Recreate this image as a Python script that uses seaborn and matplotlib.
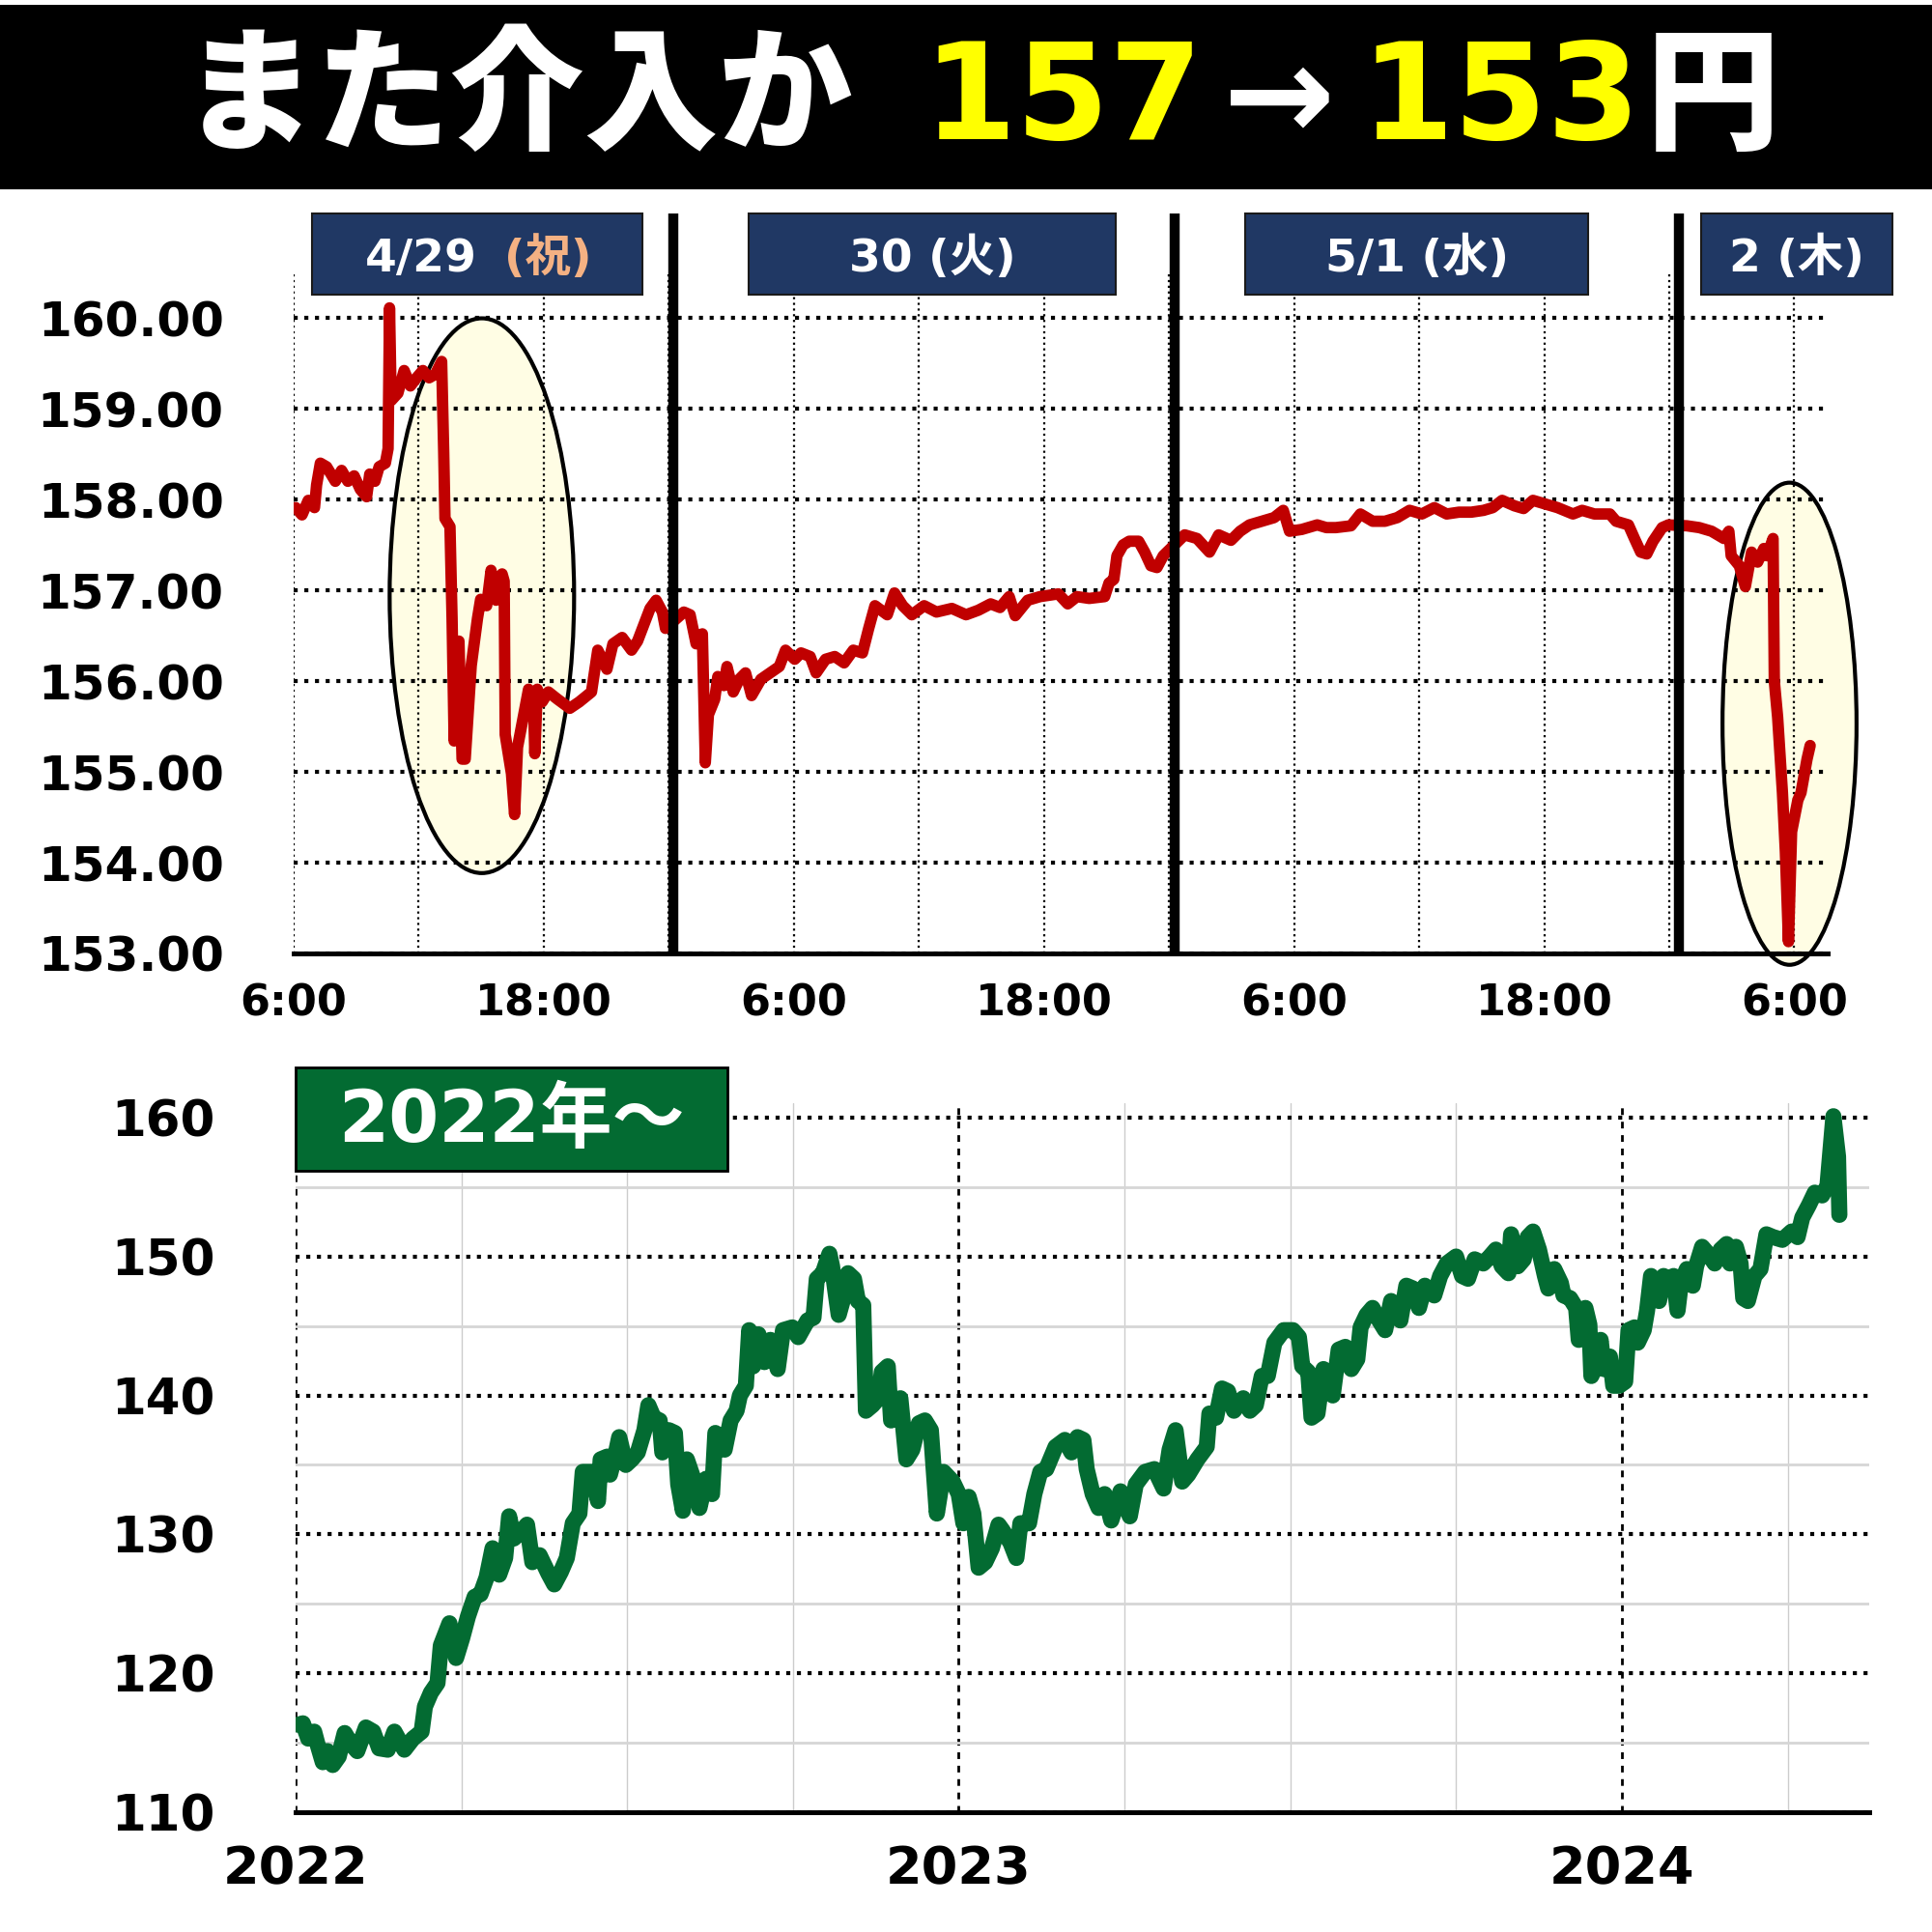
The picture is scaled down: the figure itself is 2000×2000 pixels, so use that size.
import numpy as np
import pandas as pd
import seaborn as sns
import matplotlib.pyplot as plt
from matplotlib.patches import Ellipse, Rectangle

# ドル円 4/29 6:00 からの経過時間 [h]
hours = [0.1, 0.4, 0.7, 1.0, 1.1, 1.28, 1.58, 2.0, 2.3, 2.6, 2.9, 3.2, 3.5, 3.65, 3.9, 4.1, 4.4, 4.53,
         4.6, 4.68, 5.0, 5.3, 5.6, 5.9, 6.2, 6.5, 6.8, 7.1, 7.2, 7.26, 7.5, 7.6, 7.7, 7.85, 7.93, 8.08,
         8.23, 8.52, 8.82, 8.97, 9.26, 9.47, 9.71, 10.0, 10.1, 10.15, 10.45, 10.6, 10.74, 11.04, 11.27,
         11.5, 11.57, 11.69, 11.92, 12.22, 12.66, 13.25, 13.7, 14.29, 14.59, 15.03, 15.32, 15.76, 16.21,
         16.5, 16.8, 17.1, 17.39, 17.69, 17.84, 18.72, 19.02, 19.31, 19.61, 19.75, 19.9, 20.2, 20.35,
         20.64, 20.79, 21.09, 21.38, 21.68, 21.97, 22.42, 22.86, 23.3, 23.6, 24.04, 24.34, 24.78, 25.07,
         25.52, 25.96, 26.41, 26.85, 27.29, 27.59, 27.89, 28.48, 28.83, 29.22, 29.66, 30.25, 30.84, 31.58,
         32.26, 32.85, 33.44, 33.89, 34.33, 34.62, 35.22, 35.81, 36.69, 37.14, 37.58, 38.17, 38.91, 39.12,
         39.35, 39.5, 39.8, 40.09, 40.54, 40.83, 41.13, 41.42, 41.72, 42.75, 43.34, 43.94, 44.38, 44.97,
         45.41, 45.86, 46.45, 47.04, 47.48, 47.78, 48.37, 49.11, 49.55, 50.0, 50.73, 51.18, 51.77, 52.36,
         52.95, 53.54, 54.13, 54.73, 55.32, 55.91, 56.5, 57.09, 57.53, 57.98, 58.57, 59.01, 59.46, 60.05,
         60.64, 61.38, 61.82, 62.41, 63.15, 63.45, 64.04, 64.33, 64.63, 64.92, 65.22, 65.66, 65.96, 66.84,
         67.44, 68.03, 68.62, 68.86, 68.97, 69.36, 69.65, 69.95, 70.24, 70.54, 70.69, 70.98, 71.04, 71.2,
         71.43, 71.57, 71.72, 71.87, 72.17, 72.32, 72.46, 72.61, 72.76]
usdjpy_intraday = [157.91, 157.83, 157.99, 157.91, 158.16, 158.40, 158.36, 158.20, 158.32, 158.20, 158.26,
                   158.11, 158.03, 158.28, 158.20, 158.36, 158.40, 158.56, 160.11, 159.09, 159.17, 159.42,
                   159.25, 159.34, 159.42, 159.34, 159.38, 159.52, 158.52, 157.79, 157.70, 156.69, 155.34,
                   156.40, 156.44, 155.14, 155.14, 156.17, 156.69, 156.90, 156.83, 157.22, 156.89, 157.18,
                   157.10, 155.41, 154.98, 154.53, 155.27, 155.63, 155.91, 155.85, 155.20, 155.91, 155.77,
                   155.88, 155.80, 155.70, 155.77, 155.88, 156.34, 156.13, 156.41, 156.48, 156.34, 156.44,
                   156.62, 156.80, 156.89, 156.76, 156.58, 156.76, 156.73, 156.41, 156.52, 155.10, 155.63,
                   155.80, 156.05, 155.95, 156.16, 155.88, 156.02, 156.09, 155.84, 156.02, 156.09, 156.16,
                   156.34, 156.24, 156.31, 156.27, 156.09, 156.24, 156.27, 156.20, 156.34, 156.31, 156.58,
                   156.83, 156.73, 156.97, 156.83, 156.73, 156.83, 156.76, 156.80, 156.73, 156.78, 156.85,
                   156.81, 156.93, 156.72, 156.89, 156.93, 156.96, 156.85, 156.93, 156.91, 156.93, 157.08,
                   157.12, 157.38, 157.50, 157.54, 157.54, 157.42, 157.27, 157.25, 157.38, 157.61, 157.57,
                   157.42, 157.61, 157.55, 157.65, 157.72, 157.76, 157.80, 157.88, 157.65, 157.67, 157.72,
                   157.69, 157.69, 157.71, 157.84, 157.76, 157.76, 157.80, 157.88, 157.84, 157.91, 157.84,
                   157.86, 157.86, 157.88, 157.91, 157.99, 157.93, 157.90, 157.99, 157.95, 157.91, 157.84,
                   157.88, 157.84, 157.84, 157.76, 157.72, 157.57, 157.42, 157.40, 157.54, 157.69, 157.72,
                   157.71, 157.69, 157.65, 157.57, 157.65, 157.38, 157.27, 157.04, 157.42, 157.31, 157.46,
                   157.38, 157.57, 156.00, 155.60, 154.77, 154.12, 153.13, 154.34, 154.69, 154.77, 154.95,
                   155.14, 155.29]

hour_ticks = [0, 12, 24, 36, 48, 60, 72]
hour_labels = ['6:00', '18:00', '6:00', '18:00', '6:00', '18:00', '6:00']
day_breaks = [18.22, 42.27, 66.47]
day_names = ['4/29', '30 (火)', '5/1 (水)', '2 (木)']

# 2022年～ ドル円（年）
years = [2022.004, 2022.011, 2022.019, 2022.028, 2022.033, 2022.041, 2022.048, 2022.056, 2022.065, 2022.074,
         2022.084, 2022.093, 2022.106, 2022.117, 2022.126, 2022.139, 2022.149, 2022.164, 2022.177, 2022.190,
         2022.195, 2022.204, 2022.214, 2022.219, 2022.232, 2022.242, 2022.251, 2022.260, 2022.270, 2022.279,
         2022.288, 2022.297, 2022.307, 2022.316, 2022.322, 2022.329, 2022.338, 2022.349, 2022.357, 2022.368,
         2022.381, 2022.390, 2022.400, 2022.409, 2022.418, 2022.428, 2022.433, 2022.447, 2022.456, 2022.460,
         2022.470, 2022.474, 2022.484, 2022.488, 2022.498, 2022.507, 2022.516, 2022.526, 2022.532, 2022.540,
         2022.549, 2022.553, 2022.563, 2022.572, 2022.577, 2022.584, 2022.590, 2022.600, 2022.609, 2022.619,
         2022.628, 2022.633, 2022.647, 2022.656, 2022.665, 2022.670, 2022.679, 2022.684, 2022.690, 2022.698,
         2022.707, 2022.716, 2022.727, 2022.735, 2022.749, 2022.758, 2022.772, 2022.781, 2022.786, 2022.795,
         2022.805, 2022.809, 2022.814, 2022.819, 2022.826, 2022.833, 2022.842, 2022.848, 2022.856, 2022.860,
         2022.870, 2022.879, 2022.884, 2022.893, 2022.898, 2022.912, 2022.921, 2022.930, 2022.940, 2022.949,
         2022.958, 2022.967, 2022.977, 2022.991, 2023.000, 2023.007, 2023.015, 2023.022, 2023.030, 2023.040,
         2023.050, 2023.060, 2023.066, 2023.078, 2023.087, 2023.093, 2023.106, 2023.114, 2023.123, 2023.132,
         2023.146, 2023.160, 2023.170, 2023.179, 2023.188, 2023.193, 2023.202, 2023.211, 2023.220, 2023.230,
         2023.244, 2023.258, 2023.267, 2023.281, 2023.295, 2023.309, 2023.318, 2023.327, 2023.337, 2023.346,
         2023.360, 2023.374, 2023.378, 2023.388, 2023.397, 2023.406, 2023.415, 2023.429, 2023.439, 2023.448,
         2023.457, 2023.466, 2023.476, 2023.490, 2023.504, 2023.513, 2023.518, 2023.527, 2023.532, 2023.541,
         2023.550, 2023.564, 2023.573, 2023.583, 2023.592, 2023.601, 2023.606, 2023.615, 2023.624, 2023.634,
         2023.643, 2023.652, 2023.661, 2023.666, 2023.675, 2023.685, 2023.694, 2023.703, 2023.717, 2023.726,
         2023.736, 2023.750, 2023.759, 2023.768, 2023.778, 2023.791, 2023.801, 2023.810, 2023.819, 2023.829,
         2023.833, 2023.843, 2023.852, 2023.858, 2023.866, 2023.875, 2023.884, 2023.889, 2023.898, 2023.908,
         2023.912, 2023.922, 2023.931, 2023.935, 2023.945, 2023.951, 2023.954, 2023.963, 2023.968, 2023.973,
         2023.982, 2023.987, 2023.996, 2024.005, 2024.010, 2024.019, 2024.024, 2024.033, 2024.038, 2024.044,
         2024.052, 2024.056, 2024.063, 2024.070, 2024.078, 2024.084, 2024.089, 2024.098, 2024.107, 2024.112,
         2024.121, 2024.130, 2024.140, 2024.149, 2024.158, 2024.163, 2024.172, 2024.179, 2024.183, 2024.190,
         2024.200, 2024.209, 2024.218, 2024.228, 2024.242, 2024.256, 2024.265, 2024.272, 2024.282, 2024.291,
         2024.302, 2024.310, 2024.319, 2024.326, 2024.328]
usdjpy_daily = [116.3, 116.4, 115.3, 115.8, 114.9, 113.6, 114.4, 113.4, 114.0, 115.7,
                114.9, 114.4, 116.1, 115.8, 114.6, 114.5, 115.8, 114.5, 115.3, 115.8,
                117.6, 118.6, 119.3, 122.0, 123.6, 121.1, 122.5, 124.1, 125.5, 125.7,
                126.9, 129.0, 127.1, 128.3, 131.3, 129.7, 130.1, 130.7, 128.0, 128.5,
                127.2, 126.4, 127.3, 128.3, 130.8, 131.5, 134.5, 134.5, 132.4, 135.4,
                135.6, 134.3, 136.1, 137.0, 135.0, 135.4, 135.9, 137.5, 139.3, 138.4,
                138.2, 135.9, 137.5, 137.3, 133.6, 131.7, 135.4, 134.0, 131.9, 134.0,
                132.9, 137.3, 136.1, 138.2, 138.9, 140.0, 140.7, 144.7, 142.1, 144.4,
                142.4, 144.0, 141.9, 144.7, 144.9, 144.2, 145.4, 145.6, 148.4, 148.8,
                150.2, 149.3, 147.5, 145.8, 147.0, 148.8, 148.4, 146.8, 146.5, 138.9,
                139.3, 139.8, 141.7, 142.1, 138.2, 139.8, 135.4, 136.1, 138.0, 138.2,
                137.5, 131.5, 134.5, 133.8, 132.9, 130.8, 132.7, 131.5, 127.6, 128.0,
                129.0, 130.7, 130.3, 129.4, 128.3, 130.8, 130.8, 132.9, 134.5, 134.7,
                136.3, 136.8, 135.9, 137.0, 136.8, 134.7, 132.9, 131.9, 132.9, 131.0,
                133.1, 131.3, 133.6, 134.5, 134.7, 133.3, 136.1, 137.5, 133.8, 134.3,
                135.4, 136.3, 138.7, 138.4, 140.5, 140.3, 138.9, 139.8, 138.9, 139.3,
                141.4, 141.4, 143.8, 144.7, 144.7, 144.2, 142.1, 141.7, 138.4, 138.7,
                141.9, 140.0, 143.3, 143.5, 141.9, 142.6, 144.9, 145.8, 146.3, 145.4,
                144.7, 146.8, 146.1, 145.4, 147.9, 147.7, 146.3, 147.9, 147.2, 148.6,
                149.5, 150.0, 148.6, 148.4, 149.8, 149.5, 150.0, 150.5, 149.3, 148.8,
                151.6, 149.3, 149.8, 151.4, 151.8, 150.5, 148.6, 147.7, 149.1, 148.1,
                147.2, 147.0, 146.3, 144.0, 146.3, 145.1, 141.4, 142.4, 144.0, 141.9,
                142.8, 140.7, 140.7, 141.0, 144.7, 144.9, 143.8, 144.7, 146.1, 148.6,
                147.9, 146.8, 148.6, 147.7, 148.6, 146.1, 148.1, 149.1, 147.9, 149.3,
                150.7, 150.2, 149.5, 150.5, 150.9, 149.5, 150.7, 149.5, 147.0, 146.8,
                148.6, 149.1, 151.6, 151.4, 151.2, 151.8, 151.4, 152.8, 153.7, 154.6,
                154.4, 155.1, 160.1, 157.2, 153.0]
year_ticks = [2022, 2023, 2024]

RED = '#C00000'
GREEN = '#036B32'
NAVY = '#203864'
PEACH = '#F4B183'
CREAM = '#FFFDE4'

sns.set_theme(style='white')
plt.rcParams['font.family'] = ['DejaVu Sans', 'Noto Sans CJK JP']
plt.rcParams['font.weight'] = 'bold'
plt.rcParams['text.color'] = 'black'
plt.rcParams['xtick.color'] = 'black'
plt.rcParams['ytick.color'] = 'black'

fig = plt.figure(figsize=(20, 20), dpi=100)

# タイトル帯
fig.add_artist(Rectangle((0, 0.902), 1, 0.0955, transform=fig.transFigure,
                         facecolor='black', edgecolor='none'))
title_parts = [('また介入か', 'white', 0.268), ('157', '#FFFF00', 0.550), ('→', 'white', 0.6615),
               ('153', '#FFFF00', 0.7765), ('円', 'white', 0.8865)]
for txt, col, xc in title_parts:
    fig.text(xc, 0.928, txt, color=col, fontsize=100, fontweight='heavy',
             ha='center', va='baseline')

# ---- 上段：日中足 ----
ax1 = fig.add_axes([0.152, 0.5065, 0.794, 0.352])
df1 = pd.DataFrame({'hour': hours, 'price': usdjpy_intraday})
sns.lineplot(data=df1, x='hour', y='price', ax=ax1, color=RED, linewidth=8.5,
             estimator=None, sort=False, zorder=3,
             solid_joinstyle='round', solid_capstyle='round')

ax1.set_xlim(0, 73.6)
ax1.set_ylim(153, 160.49)
ax1.set_yticks(np.arange(153, 161))
ax1.set_yticklabels([f'{v:.2f}' for v in np.arange(153, 161)])
ax1.set_xticks(hour_ticks)
ax1.set_xticklabels(hour_labels)
ax1.set_xticks([h + 6 for h in hour_ticks[:-1]], minor=True)
ax1.set_xlabel('')
ax1.set_ylabel('')
ax1.set_axisbelow('line')
ax1.grid(axis='y', which='major', color='black', linestyle=':', linewidth=3)
ax1.grid(axis='x', which='both', color='black', linestyle=':', linewidth=1.6)
ax1.tick_params(axis='y', length=0, labelsize=36, pad=52)
ax1.tick_params(axis='x', which='both', length=0, labelsize=32, pad=22)
for s in ['top', 'right', 'left']:
    ax1.spines[s].set_visible(False)
ax1.spines['bottom'].set_color('black')
ax1.spines['bottom'].set_linewidth(3.6)
ax1.spines['bottom'].set_zorder(4)

# 注目部分の楕円
for cx, cy, w, h in [(9.03, 156.94, 8.85, 6.11), (71.77, 155.53, 6.43, 5.31)]:
    ax1.add_patch(Ellipse((cx, cy), w, h, facecolor=CREAM, edgecolor='black',
                          linewidth=3, zorder=1.2, clip_on=False))

# 日付の区切り線
ax1.vlines(day_breaks, 153, 161.15, colors='black', linewidth=7.5, zorder=4, clip_on=False)

# 日付ラベル
day_boxes = [(0.86, 16.73), (21.83, 39.44), (45.66, 62.1), (67.53, 76.69)]
for (x0, x1), name in zip(day_boxes, day_names):
    ax1.add_patch(Rectangle((x0, 160.255), x1 - x0, 0.895, facecolor=NAVY,
                            edgecolor='#1a1a1a', linewidth=1.5, zorder=5, clip_on=False))
    if name == '4/29':
        ax1.text(6.1, 160.51, name, color='white', fontsize=34, ha='center',
                 va='baseline', zorder=6, clip_on=False)
        ax1.text(12.2, 160.51, '(祝)', color=PEACH, fontsize=34, ha='center',
                 va='baseline', zorder=6, clip_on=False)
    else:
        ax1.text((x0 + x1) / 2, 160.51, name, color='white', fontsize=34, ha='center',
                 va='baseline', zorder=6, clip_on=False)

# ---- 下段：2022年～ ----
ax2 = fig.add_axes([0.153, 0.062, 0.8145, 0.367])
df2 = pd.DataFrame({'year': years, 'price': usdjpy_daily})
sns.lineplot(data=df2, x='year', y='price', ax=ax2, color=GREEN, linewidth=12,
             estimator=None, sort=False, zorder=3,
             solid_joinstyle='round', solid_capstyle='round')

ax2.set_xlim(2022, 2024.373)
ax2.set_ylim(110, 161.04)
ax2.set_yticks(np.arange(110, 161, 10))
ax2.set_yticks(np.arange(115, 160, 10), minor=True)
ax2.set_xticks(year_ticks)
ax2.set_xticklabels([str(y) for y in year_ticks])
ax2.set_xticks([y + q for y in year_ticks for q in (0.25, 0.5, 0.75) if y + q < 2024.37], minor=True)
ax2.set_xlabel('')
ax2.set_ylabel('')
ax2.set_axisbelow('line')
ax2.grid(axis='y', which='major', color='black', linestyle=':', linewidth=3)
ax2.grid(axis='y', which='minor', color='#D6D6D6', linestyle='-', linewidth=2)
ax2.grid(axis='x', which='major', color='black', linestyle=(0, (2.5, 2.5)), linewidth=2)
ax2.grid(axis='x', which='minor', color='#CCCCCC', linestyle='-', linewidth=1)
ax2.tick_params(axis='y', which='both', length=0, labelsize=37, pad=60)
ax2.tick_params(axis='x', which='both', length=0, labelsize=39, pad=24)
for s in ['top', 'right', 'left']:
    ax2.spines[s].set_visible(False)
ax2.spines['bottom'].set_color('black')
ax2.spines['bottom'].set_linewidth(3.6)

ax2.add_patch(Rectangle((0, 0.9046), 0.2744, 0.1458, transform=ax2.transAxes,
                        facecolor=GREEN, edgecolor='black', linewidth=2, zorder=5, clip_on=False))
ax2.text(0.137, 0.946, '2022年～', transform=ax2.transAxes, color='white', fontsize=54,
         ha='center', va='baseline', zorder=6, clip_on=False)

fig.savefig('out.png', dpi=100)
